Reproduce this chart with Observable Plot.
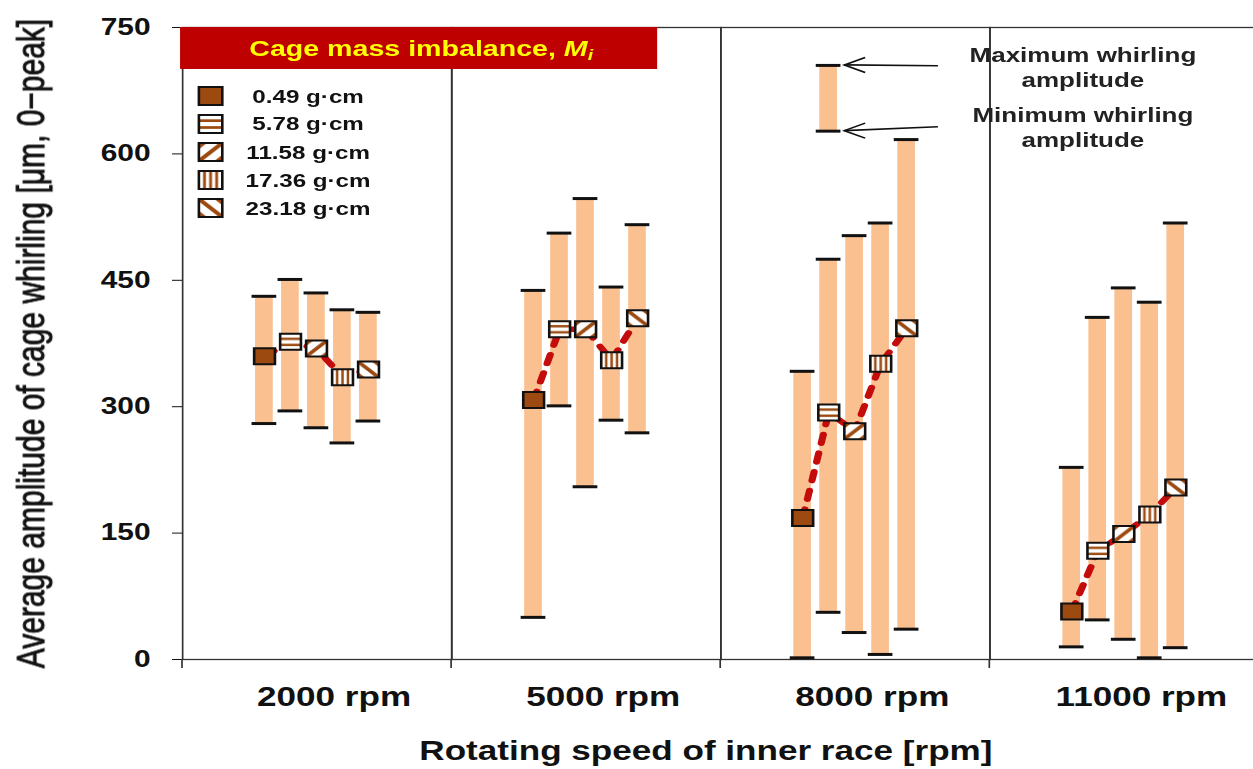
<!DOCTYPE html>
<html>
<head>
<meta charset="utf-8">
<script src="https://cdn.jsdelivr.net/npm/d3@7"></script>
<script src="https://cdn.jsdelivr.net/npm/@observablehq/plot@0.6"></script>
<style>
  html, body { margin: 0; padding: 0; background: #fff; overflow: hidden; }
  /* the whole figure is laid out narrow and drawn 1.3x wider */
  #chart { transform: scaleX(1.3); transform-origin: 0 0; width: 980px; }
  #chart svg { font-family: "Liberation Sans", Arial, sans-serif; }
</style>
</head>
<body>
<div id="chart"></div>
<script>
// Inner-race speeds (facets) and cage mass imbalances (series within a facet)
const speeds = ["2000 rpm", "5000 rpm", "8000 rpm", "11000 rpm"];
const imbalances = ["0.49 g·cm", "5.78 g·cm", "11.58 g·cm", "17.36 g·cm", "23.18 g·cm"];

// Average whirling amplitude [µm, 0-peak], one row per speed
const avgAmp = [
  [360, 377, 369, 335, 344],
  [308, 392, 392, 355, 405],
  [168, 293, 271, 351, 393],
  [57, 129, 149, 172, 204]
];
// Maximum whirling amplitude
const maxAmp = [
  [431, 451, 435, 415, 412],
  [438, 506, 547, 442, 516],
  [342, 475, 503, 518, 617],
  [228, 406, 441, 424, 518]
];
// Minimum whirling amplitude
const minAmp = [
  [280, 295, 275, 257, 283],
  [50, 301, 205, 284, 269],
  [2, 56, 32, 6, 36],
  [15, 47, 24, 2, 14]
];

// Range bar used as a key for the max/min annotation
const keySpeed = ["8000 rpm"];
const keyImbalance = ["5.78 g·cm"];
const keyRange = [627, 705];

const yTicks = [0, 150, 300, 450, 600, 750];
const legendTitle = "Cage mass imbalance, ";
const xTitle = "Rotating speed of inner race [rpm]";
const yTitle = "Average amplitude of cage whirling [μm, 0−peak]";
const keyLabels = [["Maximum whirling", "amplitude"], ["Minimum whirling", "amplitude"]];

const patternIds = ["fill-solid", "fill-horiz", "fill-fwd", "fill-vert", "fill-back"];
const patternFills = patternIds.map(id => `url(#${id})`);

const rows = speeds.flatMap((speed, g) => imbalances.map((imb, i) => ({
  speed, imb, avg: avgAmp[g][i], max: maxAmp[g][i], min: minAmp[g][i]
})));
const keyRows = [{speed: keySpeed[0], imb: keyImbalance[0], min: keyRange[0], max: keyRange[1]}];

const W = 980, H = 769;
const frameLeft = 138.5, frameRight = 969.2;
const brown = "#9c4a10";
const barFill = "#fac090";

const plot = Plot.plot({
  width: W,
  height: H,
  marginLeft: frameLeft,
  marginRight: W - frameRight,
  marginTop: 27,
  marginBottom: 110,
  style: {background: "#fff", overflow: "visible", color: "#111"},
  fx: {domain: speeds, padding: 0},
  x: {type: "band", domain: imbalances, paddingInner: 0.04, paddingOuter: 2.52, axis: null},
  y: {domain: [0, 750]},
  color: {type: "ordinal", domain: imbalances, range: patternFills},
  marks: [
    Plot.frame({stroke: "#333", strokeWidth: 1.3}),
    Plot.barY(rows, {fx: "speed", x: "imb", y1: "min", y2: "max", fill: barFill, insetLeft: 2.7, insetRight: 2.7}),
    Plot.tickY(rows, {fx: "speed", x: "imb", y: "max", stroke: "#111", strokeWidth: 3}),
    Plot.tickY(rows, {fx: "speed", x: "imb", y: "min", stroke: "#111", strokeWidth: 3}),
    Plot.barY(keyRows, {fx: "speed", x: "imb", y1: "min", y2: "max", fill: barFill, insetLeft: 2.7, insetRight: 2.7}),
    Plot.tickY(keyRows, {fx: "speed", x: "imb", y: "max", stroke: "#111", strokeWidth: 3}),
    Plot.tickY(keyRows, {fx: "speed", x: "imb", y: "min", stroke: "#111", strokeWidth: 3}),
    Plot.line(rows, {fx: "speed", x: "imb", y: "avg", stroke: "#c40c0c", strokeWidth: 5.5,
      strokeDasharray: "9,10", strokeLinecap: "round"}),
    Plot.dot(rows, {fx: "speed", x: "imb", y: "avg", symbol: "square", r: 9.03,
      fill: "imb", stroke: "#111", strokeWidth: 2}),
    Plot.axisY({ticks: yTicks, tickSize: 7.7, tickPadding: 17, fontSize: 23, fontWeight: "bold", label: null}),
    Plot.axisY({ticks: [], tickSize: 0, label: yTitle, labelAnchor: "center", labelArrow: "none",
      labelOffset: 128, fontSize: 30}),
    Plot.axisFx({anchor: "bottom", tickSize: 0, tickPadding: 27, fontSize: 27, fontWeight: "bold", dx: 13, label: null}),
    Plot.axisFx({anchor: "bottom", ticks: [], tickSize: 0, label: xTitle, labelAnchor: "center", labelArrow: "none",
      labelOffset: 100, fontSize: 27, fontWeight: "bold"})
  ]
});

document.getElementById("chart").append(plot);

const svg = d3.select(plot);

// Axis titles: heavier y title, x title nudged left of the frame centre
svg.selectAll("text").each(function() {
  const txt = this.textContent;
  if (txt === yTitle) {
    d3.select(this).attr("stroke", "#111").attr("stroke-width", 0.7);
  } else if (txt === xTitle) {
    const t = this.getAttribute("transform") || "";
    this.setAttribute("transform", `translate(-11.5,0) ${t}`);
  }
});

// Hatch patterns for the markers and legend swatches (one tile per marker)
const defs = svg.insert("defs", ":first-child");
function pattern(id) {
  const p = defs.append("pattern").attr("id", id)
    .attr("patternUnits", "objectBoundingBox").attr("patternContentUnits", "objectBoundingBox")
    .attr("width", 1).attr("height", 1);
  p.append("rect").attr("width", 1).attr("height", 1).attr("fill", "#fff");
  return p;
}
defs.append("pattern").attr("id", "fill-solid")
  .attr("patternUnits", "objectBoundingBox").attr("patternContentUnits", "objectBoundingBox")
  .attr("width", 1).attr("height", 1)
  .append("rect").attr("width", 1).attr("height", 1).attr("fill", brown);
const ph = pattern("fill-horiz");
[0.24, 0.62].forEach(y => ph.append("rect").attr("y", y).attr("width", 1).attr("height", 0.15).attr("fill", brown));
const pv = pattern("fill-vert");
[0.18, 0.44, 0.70].forEach(x => pv.append("rect").attr("x", x).attr("width", 0.12).attr("height", 1).attr("fill", brown));
const pf = pattern("fill-fwd");
pf.append("path").attr("d", "M-0.1,1.1L1.1,-0.1M-0.3,0.5L0.5,-0.3M0.5,1.3L1.3,0.5")
  .attr("stroke", brown).attr("stroke-width", 0.2).attr("fill", "none");
const pb = pattern("fill-back");
pb.append("path").attr("d", "M-0.1,-0.1L1.1,1.1M0.5,-0.3L1.3,0.5M-0.3,0.5L0.5,1.3")
  .attr("stroke", brown).attr("stroke-width", 0.2).attr("fill", "none");

const y = plot.scale("y");
const fx = plot.scale("fx");
const xs = plot.scale("x");

const overlay = svg.append("g");

// Short category ticks below the axis at every facet boundary
const y0 = y.apply(0);
[...speeds.map(s => fx.apply(s)), frameRight].forEach(px => {
  overlay.append("line")
    .attr("x1", px).attr("x2", px).attr("y1", y0).attr("y2", y0 + 9)
    .attr("stroke", "#333").attr("stroke-width", 1.3);
});

// Title banner above the legend
overlay.append("rect")
  .attr("x", frameLeft).attr("y", y.apply(750))
  .attr("width", 367).attr("height", 42)
  .attr("fill", "#bf0000");
const banner = overlay.append("text")
  .attr("x", 324).attr("y", y.apply(750) + 21).attr("dy", "0.35em")
  .attr("text-anchor", "middle")
  .attr("font-size", 22).attr("font-weight", "bold").attr("fill", "#ffff00");
banner.append("tspan").text(legendTitle);
banner.append("tspan").attr("font-style", "italic").text("M");
banner.append("tspan").attr("font-style", "italic").attr("font-size", 15).attr("dy", "0.3em").text("i");

// Legend: swatch + imbalance value
const legend = overlay.append("g");
imbalances.forEach((label, i) => {
  const cy = 96 + i * 28;
  legend.append("rect")
    .attr("x", 153).attr("y", cy - 9).attr("width", 18).attr("height", 18)
    .attr("fill", patternFills[i]).attr("stroke", "#111").attr("stroke-width", 2);
  legend.append("text")
    .attr("x", 237).attr("y", cy).attr("dy", "0.35em")
    .attr("text-anchor", "middle")
    .attr("font-size", 18.6).attr("font-weight", "bold").attr("fill", "#111")
    .text(label);
});

// Arrows pointing at the key bar's caps
const keyRight = fx.apply(keySpeed[0]) - frameLeft + xs.apply(keyImbalance[0]) + xs.bandwidth + 3;
const tailX = 721.5;
const arrows = overlay.append("g").attr("stroke", "#111").attr("stroke-width", 1.6).attr("fill", "none");
[[keyRange[1], 0.8], [keyRange[0], -3.9]].forEach(([v, tailShift]) => {
  const ty = y.apply(v);
  arrows.append("path").attr("d", `M${tailX},${ty + tailShift}L${keyRight},${ty}`);
  arrows.append("path").attr("d", `M${keyRight + 16},${ty - 7.5}L${keyRight},${ty}L${keyRight + 16},${ty + 7.5}`);
});
keyLabels.forEach((lines, k) => {
  const t = overlay.append("text")
    .attr("x", 833).attr("y", k === 0 ? 55 : 115)
    .attr("text-anchor", "middle")
    .attr("font-size", 20).attr("font-weight", "bold").attr("fill", "#222");
  lines.forEach((line, j) => t.append("tspan").attr("x", 833).attr("dy", j ? "1.25em" : "0.35em").text(line));
});
</script>
</body>
</html>
